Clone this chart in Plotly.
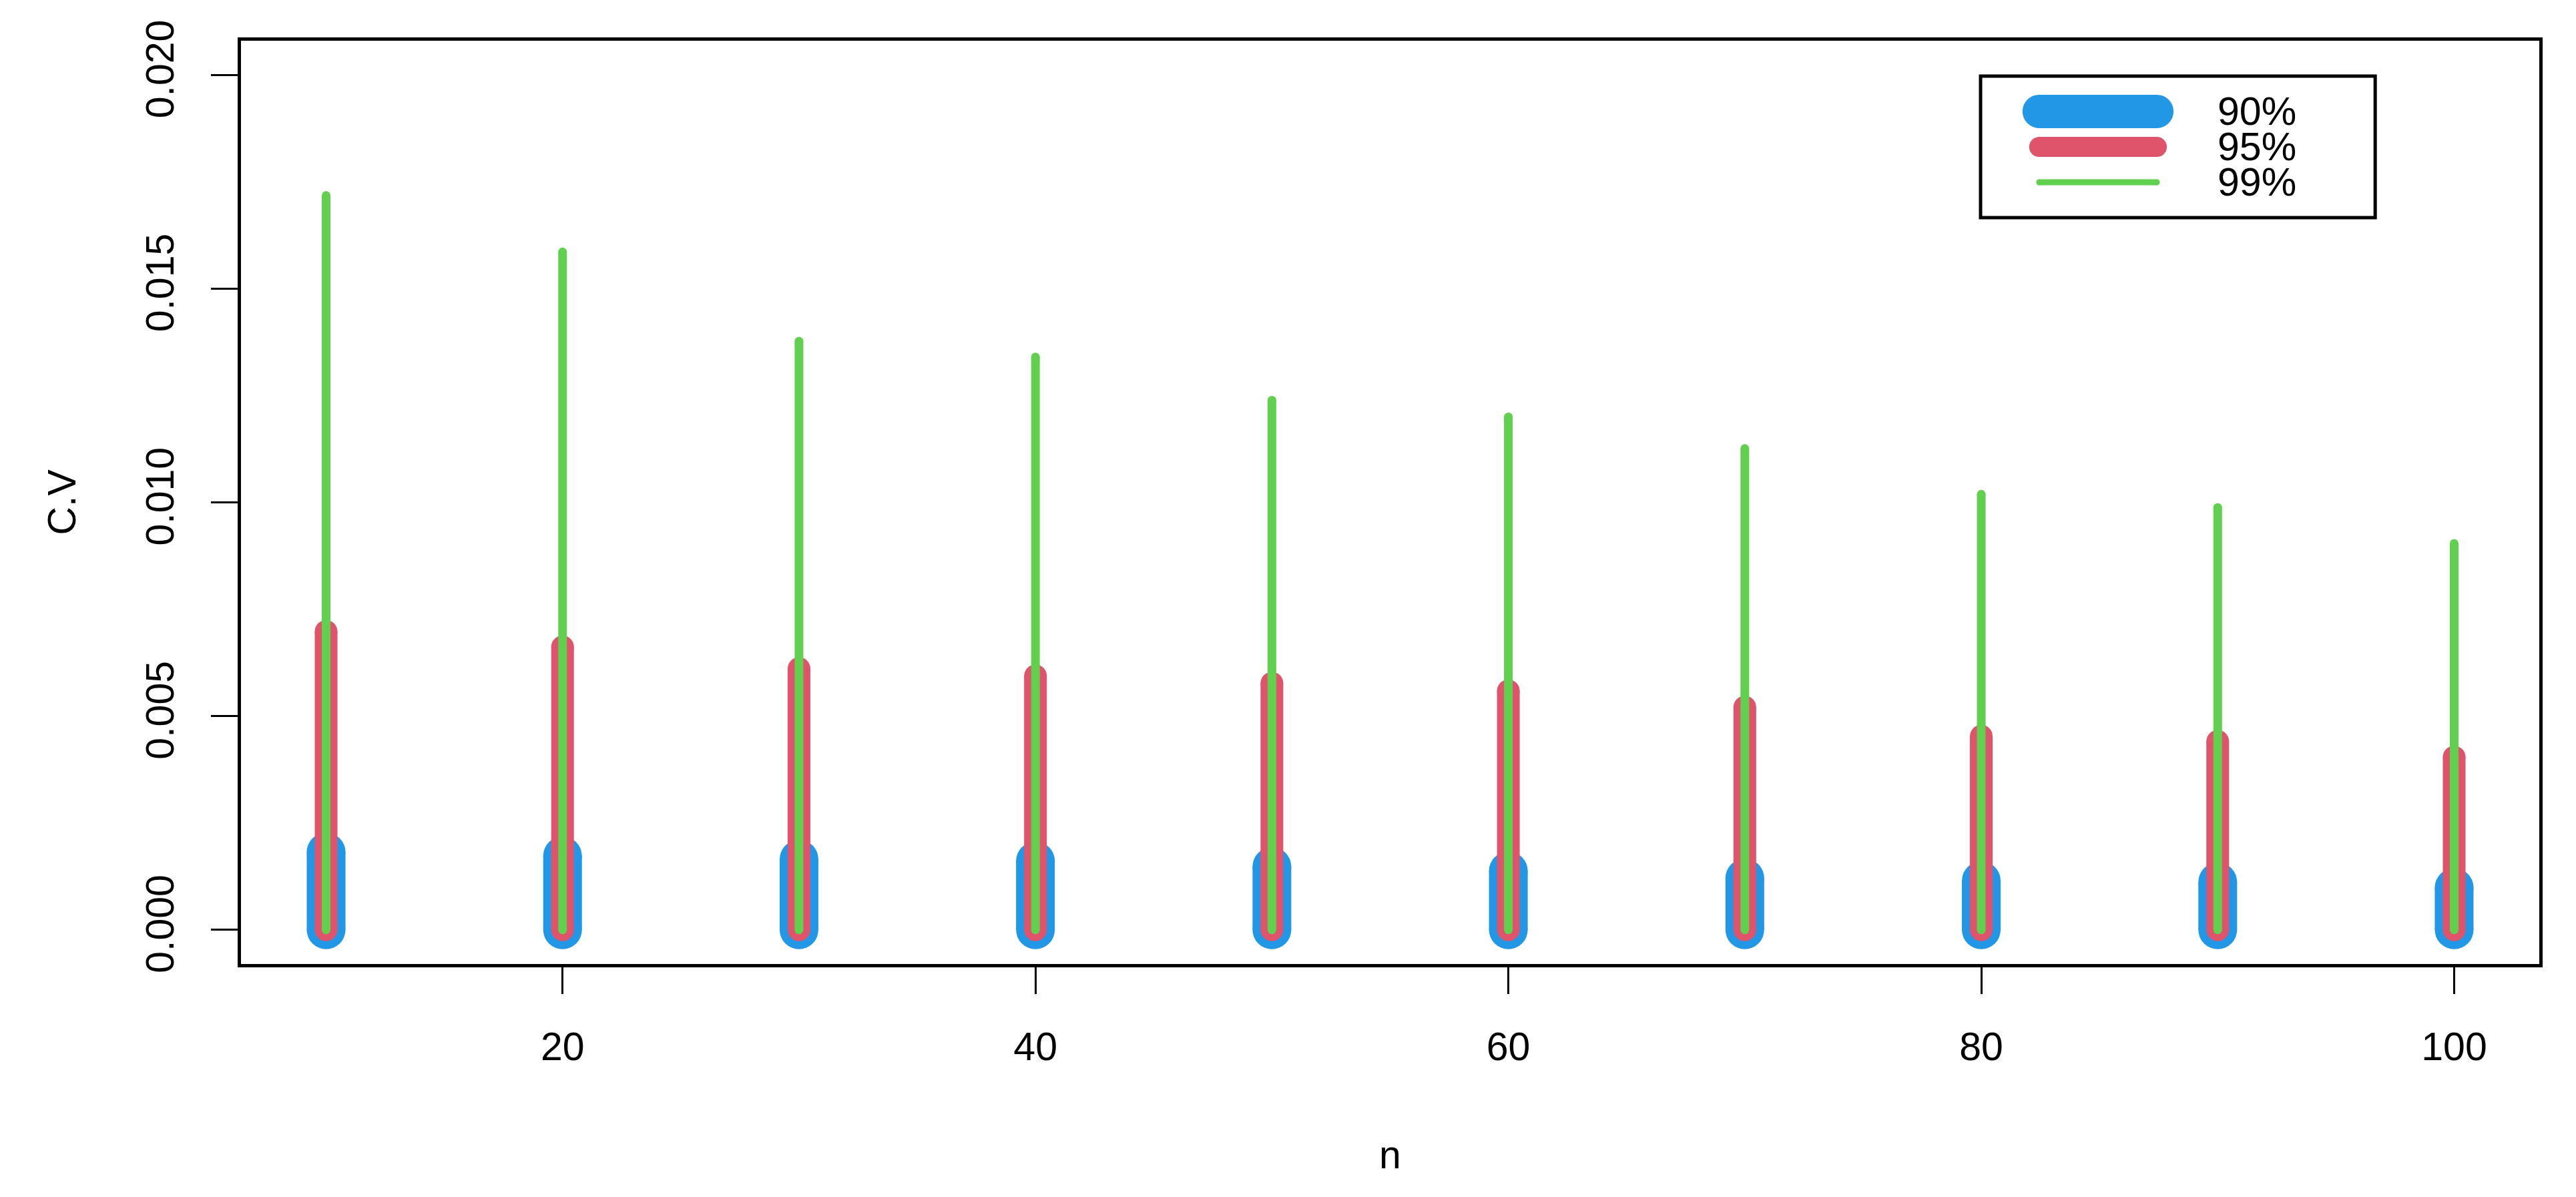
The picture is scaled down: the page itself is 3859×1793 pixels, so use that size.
import plotly.graph_objects as go

# sample sizes and upper C.V values for each confidence level
n = [10, 20, 30, 40, 50, 60, 70, 80, 90, 100]
cv90 = [0.00182, 0.00173, 0.00165, 0.00161, 0.00148, 0.00138, 0.00121, 0.00115, 0.00112, 0.00099]
cv95 = [0.00698, 0.00662, 0.00611, 0.00594, 0.00577, 0.00559, 0.00521, 0.00453, 0.00441, 0.00404]
cv99 = [0.01718, 0.01586, 0.01377, 0.01340, 0.01239, 0.01200, 0.01126, 0.01019, 0.00988, 0.00904]
labels = ['90%', '95%', '99%']

y_ticks = [0.0, 0.005, 0.010, 0.015, 0.020]
x_ticks = [20, 40, 60, 80, 100]

colors = ['#2297E6', '#DF536B', '#61D04F']
widths = [58, 34, 13]
leg_widths = [50, 30, 9]
FONT = 'Liberation Sans, Arial, sans-serif'
FS = 59


def segments(xs, ys):
    # vertical segments from 0 up to each value, split by gaps
    sx, sy = [], []
    for x, y in zip(xs, ys):
        sx += [x, x, None]
        sy += [0, y, None]
    return sx, sy


fig = go.Figure()
for vals, col, w, lab in zip([cv90, cv95, cv99], colors, widths, labels):
    sx, sy = segments(n, vals)
    fig.add_trace(go.Scatter(
        x=sx, y=sy, mode='lines+markers', name=lab,
        line=dict(color=col, width=w),
        marker=dict(color=col, size=w, line=dict(width=0)),
        showlegend=False, hoverinfo='skip',
    ))

# hand drawn legend in the top right corner (R style box)
leg_x0, leg_x1 = 0.7569, 0.9286
leg_y0, leg_y1 = 0.8084, 0.9617
line_x = [0.7824, 0.8336]
line_y = [0.9234, 0.8850, 0.8467]
annotations = []
for col, w, lab, ly in zip(colors, leg_widths, labels, line_y):
    fig.add_trace(go.Scatter(
        x=line_x, y=[ly, ly], xaxis='x2', yaxis='y2', mode='lines+markers',
        line=dict(color=col, width=w),
        marker=dict(color=col, size=w, line=dict(width=0)),
        showlegend=False, hoverinfo='skip',
    ))
    annotations.append(dict(
        x=0.8594, y=ly, xref='paper', yref='paper', text=lab,
        showarrow=False, xanchor='left', yanchor='middle',
        height=48, valign='middle',
        font=dict(size=FS, color='black', family=FONT),
    ))

annotations.append(dict(
    x=0.5, y=-0.2068, xref='paper', yref='paper', text='n',
    showarrow=False, xanchor='center', yanchor='middle',
    font=dict(size=FS, color='black', family=FONT),
))
annotations.append(dict(
    x=-0.0781, y=0.5, xref='paper', yref='paper', text='C.V',
    showarrow=False, xanchor='center', yanchor='middle', textangle=-90,
    font=dict(size=FS, color='black', family=FONT),
))

# page body adds an 8px margin, so the figure is 8px smaller on each side
fig.update_layout(
    width=3851, height=1785,
    margin=dict(l=353, r=55, t=53, b=349),
    paper_bgcolor='white', plot_bgcolor='white',
    font=dict(family=FONT, size=FS, color='black'),
    showlegend=False,
    annotations=annotations,
    shapes=[dict(type='rect', xref='paper', yref='paper',
                 x0=leg_x0, x1=leg_x1, y0=leg_y0, y1=leg_y1,
                 line=dict(color='black', width=5))],
    xaxis=dict(
        range=[6.4, 103.6], tickvals=x_ticks, ticktext=[str(v) for v in x_ticks],
        showgrid=False, zeroline=False, showline=True, mirror=True,
        linecolor='black', linewidth=5, ticks='outside', ticklen=40,
        tickwidth=3, tickcolor='black', ticklabelstandoff=28,
        tickfont=dict(size=FS, family=FONT),
    ),
    yaxis=dict(
        range=[-0.0008, 0.0208], tickvals=y_ticks,
        ticktext=[f'{v:.3f}' for v in y_ticks], tickangle=-90,
        showgrid=False, zeroline=False, showline=True, mirror=True,
        linecolor='black', linewidth=5, ticks='outside', ticklen=40,
        tickwidth=3, tickcolor='black', ticklabelstandoff=32,
        tickfont=dict(size=FS, family=FONT),
    ),
    xaxis2=dict(overlaying='x', range=[0, 1], visible=False, fixedrange=True),
    yaxis2=dict(overlaying='y', range=[0, 1], visible=False, fixedrange=True),
)

fig.write_html('out.html')
